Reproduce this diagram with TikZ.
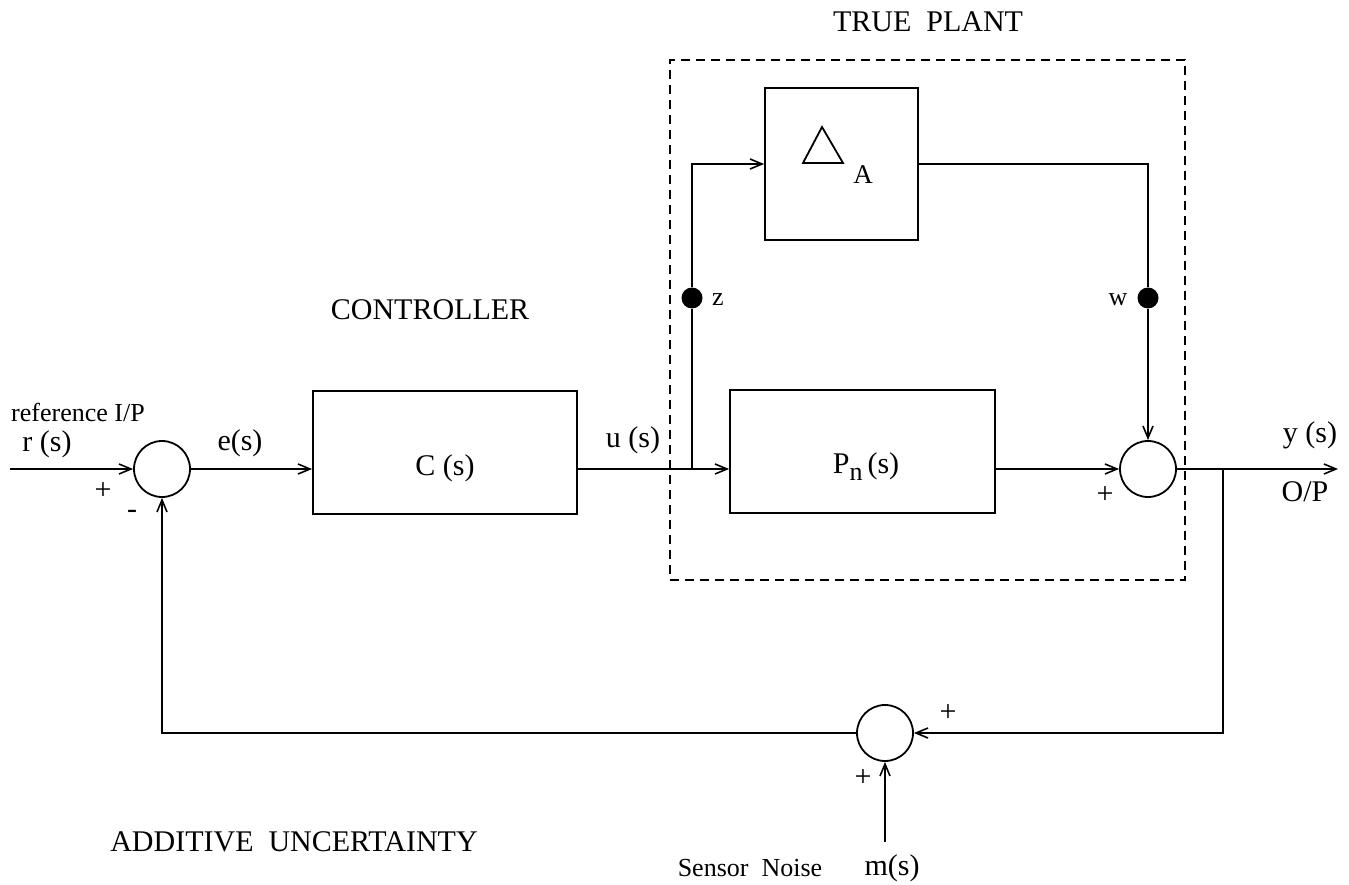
\documentclass[tikz,border=0pt]{standalone}
\usepackage{fontspec}
\setmainfont{Liberation Serif}
\usetikzlibrary{arrows.meta}
\begin{document}
\begin{tikzpicture}[x=1pt,y=-1pt,
  blk/.style={draw, line width=1.8pt, inner sep=0},
  sumc/.style={draw, circle, minimum size=56pt, inner sep=0, line width=1.8pt},
  dotn/.style={circle, fill=black, minimum size=21pt, inner sep=0},
  ln/.style={line width=1.7pt},
  arr/.style={line width=1.7pt, -{Straight Barb[length=12pt,width=10pt,line width=1.6pt]}},
  lbl/.style={font=\fontsize{30}{30}\selectfont, inner sep=0},
  sml/.style={font=\fontsize{26}{26}\selectfont, inner sep=0}]
\useasboundingbox (0,0) rectangle (1349,885);
% nodes
\coordinate (in) at (10,469);
\node[sumc] (s1) at (162,469) {};
\node[blk, minimum width=264pt, minimum height=123pt] (C) at (445,452.5) {};
\node[blk, minimum width=265pt, minimum height=123pt] (P) at (862.5,451.5) {};
\node[blk, minimum width=153pt, minimum height=152pt] (D) at (841.5,164) {};
\node[sumc] (s2) at (1148,469) {};
\coordinate (out) at (1338,469);
\coordinate (b1) at (692,469);
\coordinate (b2) at (1223,469);
\node[sumc] (s3) at (885,733) {};
\coordinate (m) at (885,842);
\node[dotn] (zd) at (692,298) {};
\node[dotn] (wd) at (1148,298) {};
\node[draw, line width=1.6pt, dash pattern=on 9pt off 6pt, minimum width=515pt, minimum height=520pt, inner sep=0] (TP) at (927.5,320) {};
% connectors
\draw[arr] (in) -- (s1.west);
\draw[arr] (s1.east) -- (s1.east -| C.west);
\draw[ln] (b1 -| C.east) -- (b1);
\draw[arr] (b1) -- (b1 -| P.west);
\draw[ln] (b1) -- (zd);
\draw[arr] (zd) |- (D.west);
\draw[arr] (b1 -| P.east) -- (s2.west);
\draw[ln] (D.east) -| (wd);
\draw[arr] (wd) -- (s2.north);
\draw[arr] (s2.east) -- (out);
\draw[arr] (b2) |- (s3.east);
\draw[arr] (s3.west) -| (s1.south);
\draw[arr] (m) -- (s3.south);
% delta symbol
\draw[line width=1.8pt, line join=miter] (822,127) -- (843,163) -- (803,163) -- cycle;
\node[font=\fontsize{27}{27}\selectfont, inner sep=0] (A) at (863,175) {A};
% labels
\node[lbl] (tpl) at (928,22) {TRUE\ \ PLANT};
\node[lbl] (ctl) at (430,310) {CONTROLLER};
\node[lbl] (adu) at (294,842) {ADDITIVE\ \ UNCERTAINTY};
\node[sml] (ref) at (78,412) {reference I/P};
\node[lbl] (rs) at (47,444) {r (s)};
\node[lbl] (p1) at (103,491) {+};
\node[lbl] (mi) at (132,514) {-};
\node[lbl] (es) at (240,443) {e(s)};
\node[lbl] (cs) at (445,468) {C (s)};
\node[lbl] (us) at (633,440) {u (s)};
\node[lbl] (pn) at (866,467) {P\raisebox{-7pt}{\fontsize{26}{26}\selectfont n}\,(s)};
\node[lbl] (p2) at (1105,495) {+};
\node[lbl] (ys) at (1310,435) {y (s)};
\node[lbl] (op) at (1305,492) {O/P};
\node[lbl] (p3) at (948,713) {+};
\node[lbl] (p4) at (863,778) {+};
\node[sml] (sn) at (750,868) {Sensor\ \ Noise};
\node[lbl] (ms) at (892,868) {m(s)};
\node[sml] (zl) at (718,300) {z};
\node[sml] (wl) at (1118,300) {w};
\end{tikzpicture}
\end{document}
